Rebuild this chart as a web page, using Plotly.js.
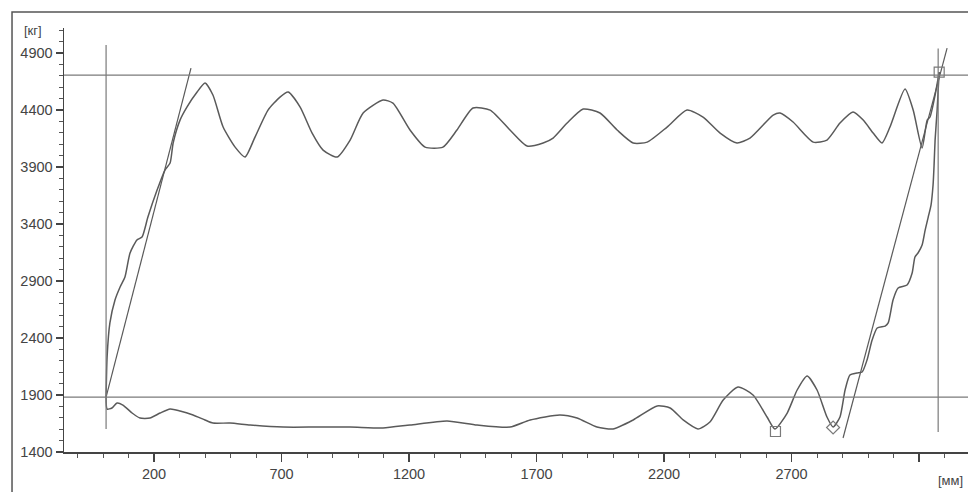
<!DOCTYPE html>
<html>
<head>
<meta charset="utf-8">
<script src="https://cdn.plot.ly/plotly-3.0.1.min.js"></script>
<style>html,body{margin:0;padding:0;background:#fff;}#chart{width:968px;height:492px;}</style>
</head>
<body>
<div id="chart"></div>
<script>
// Upper branch: left rise from start point, then oscillating top curve to the top-right marker
const upperX = [12,16,27,47,67,86,106,133,153,176,212,243,263,275,302,329,369,400,431,471,518,557,596,647,694,726,773,820,863,918,969,1020,1098,1137,1204,1263,1333,1388,1451,1518,1596,1663,1726,1765,1820,1883,1949,2016,2079,2134,2212,2290,2353,2420,2486,2537,2628,2655,2706,2785,2839,2890,2941,2981,3020,3055,3086,3145,3177,3212,3232,3243,3263,3279];
const upperY = [1882,2233,2532,2733,2847,2935,3146,3260,3286,3461,3698,3874,3935,4111,4312,4426,4558,4637,4532,4251,4075,3988,4163,4400,4514,4558,4426,4198,4049,3988,4137,4374,4488,4461,4225,4075,4075,4225,4418,4400,4225,4084,4111,4154,4286,4409,4374,4225,4111,4119,4251,4400,4339,4198,4111,4154,4356,4374,4295,4119,4137,4286,4383,4312,4198,4111,4251,4584,4400,4067,4312,4339,4532,4733];
// Lower branch: bottom curve then stepped rise on the right
const lowerX = [12,16,35,55,78,114,145,184,224,263,302,353,400,431,498,577,706,839,969,1098,1204,1349,1467,1596,1675,1792,1859,1937,2000,2079,2173,2224,2275,2333,2380,2432,2490,2549,2604,2635,2683,2722,2761,2800,2839,2863,2890,2910,2929,2957,2977,2996,3016,3036,3067,3079,3098,3118,3153,3173,3184,3196,3212,3224,3236,3247,3255,3259,3263,3271,3275,3279];
const lowerY = [1882,1777,1786,1830,1812,1742,1698,1698,1742,1777,1760,1725,1681,1654,1654,1637,1619,1619,1619,1611,1637,1672,1637,1619,1681,1725,1698,1619,1602,1681,1804,1786,1681,1602,1663,1856,1970,1900,1707,1602,1742,1944,2067,1944,1707,1619,1707,1944,2075,2093,2102,2207,2382,2488,2505,2532,2733,2839,2865,2970,3111,3146,3216,3347,3461,3566,3742,3918,4137,4400,4576,4733];
// Straight fit lines
const leftFitX = [12, 345];
const leftFitY = [1882, 4768];
const rightFitX = [2902, 3310];
const rightFitY = [1523, 4944];
// Reference lines
const vLineX = [12, 3275];
const vLineYFrom = [1602, 1575];
const vLineYTo = [4970, 4940];
const hLineY = [4707, 1882];
// Markers
const squareX = [2637, 3279];
const squareY = [1580, 4733];
const diamondX = [2863];
const diamondY = [1615];
// Ticks
const xTickVals = [200, 700, 1200, 1700, 2200, 2700, 3200];
const xTickText = ['200', '700', '1200', '1700', '2200', '2700', ''];
const yTickVals = [1400, 1900, 2400, 2900, 3400, 3900, 4400, 4900];
const yTickText = ['1400', '1900', '2400', '2900', '3400', '3900', '4400', '4900'];

const curveColor = '#5a5a5a';
const lineColor = '#7a7a7a';

const traces = [
  {x: upperX, y: upperY, mode: 'lines', line: {color: curveColor, width: 1.5, shape: 'spline', smoothing: 0.6}},
  {x: lowerX, y: lowerY, mode: 'lines', line: {color: curveColor, width: 1.5, shape: 'spline', smoothing: 0.6}},
  {x: leftFitX, y: leftFitY, mode: 'lines', line: {color: curveColor, width: 1.2}},
  {x: rightFitX, y: rightFitY, mode: 'lines', line: {color: curveColor, width: 1.2}},
  {x: squareX, y: squareY, mode: 'markers', marker: {symbol: 'square-open', size: 10, color: lineColor, line: {width: 1.2}}},
  {x: diamondX, y: diamondY, mode: 'markers', marker: {symbol: 'diamond-open', size: 10, color: lineColor, line: {width: 1.2}}}
];

const shapes = [];
vLineX.forEach((v, i) => shapes.push({type: 'line', xref: 'x', yref: 'y', x0: v, x1: v, y0: vLineYFrom[i], y1: vLineYTo[i], line: {color: lineColor, width: 1.2}}));
hLineY.forEach(v => shapes.push({type: 'line', xref: 'paper', yref: 'y', x0: 0, x1: 1, y0: v, y1: v, line: {color: lineColor, width: 1.2}}));
// outer frame
shapes.push({type: 'rect', xref: 'paper', yref: 'paper', x0: -0.0575, x1: 1.2, y0: -0.3, y1: 1.038, line: {color: '#555', width: 1.5}, layer: 'below'});

const layout = {
  width: 968, height: 492,
  margin: {l: 64, r: 0, t: 28, b: 40, pad: 0},
  paper_bgcolor: '#ffffff', plot_bgcolor: '#ffffff',
  showlegend: false,
  font: {family: 'Liberation Sans, Arial, sans-serif', size: 14, color: '#444'},
  xaxis: {
    range: [-153, 3392], showgrid: false, zeroline: false,
    showline: true, linecolor: '#444', linewidth: 1.5,
    tickmode: 'array', tickvals: xTickVals, ticktext: xTickText,
    ticks: 'outside', ticklen: 8, tickwidth: 1.5, tickcolor: '#444',
    minor: {tickmode: 'linear', tick0: 0, dtick: 100, ticks: 'outside', ticklen: 4, tickwidth: 1, tickcolor: '#555'},
    tickfont: {size: 14.5, color: '#444'}
  },
  yaxis: {
    range: [1400, 5120], showgrid: false, zeroline: false,
    showline: true, linecolor: '#444', linewidth: 1.5,
    tickmode: 'array', tickvals: yTickVals, ticktext: yTickText,
    ticks: 'outside', ticklen: 7, tickwidth: 1.5, tickcolor: '#444',
    minor: {tickmode: 'linear', tick0: 1400, dtick: 100, ticks: 'outside', ticklen: 4, tickwidth: 1, tickcolor: '#555'},
    tickfont: {size: 14.5, color: '#444'}
  },
  shapes: shapes,
  annotations: [
    {text: '[кг]', xref: 'paper', yref: 'paper', x: -0.046, y: 0.993, xanchor: 'left', yanchor: 'middle', showarrow: false, font: {size: 13, color: '#444'}},
    {text: '[мм]', xref: 'paper', yref: 'paper', x: 0.997, y: -0.045, xanchor: 'right', yanchor: 'top', showarrow: false, font: {size: 13, color: '#444'}}
  ]
};

Plotly.newPlot('chart', traces, layout, {displayModeBar: false, staticPlot: true});
</script>
</body>
</html>
